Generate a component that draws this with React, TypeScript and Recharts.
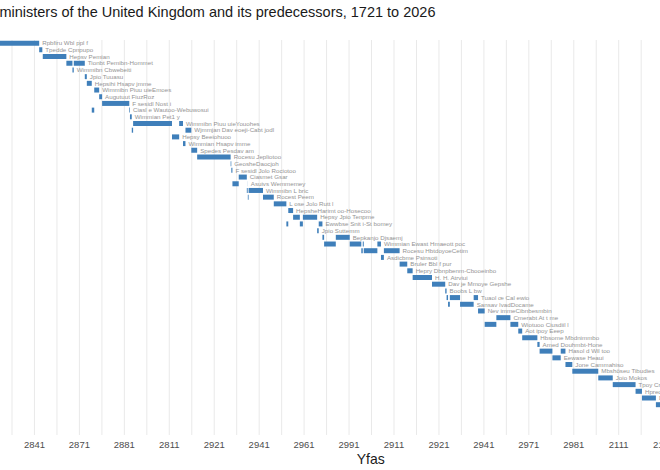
import { BarChart, Bar, XAxis, YAxis, CartesianGrid, LabelList, Label } from "recharts";

// Gantt-style timeline: one row per premiership holder, one bar per term in office.

const pmNames = [
  "Rpbfiru Wbl ppl f",
  "Tpedde Cpnpupo",
  "Hepsv Pemian",
  "Tionbt Pemibn-Hommet",
  "Wimmibn Cbwebeiti",
  "Jpio Tuuasu",
  "Hepsihi Hsapv jmme",
  "Wimmibn Piuu uieEmoes",
  "Augutuut FiuzRoz",
  "F sesidl Nost i",
  "Ciasl  e Wautoo-Webuwosui",
  "Wimmian Pet1 y",
  "Wimmibn Piuu uieYouohes",
  "Wjmmjan Dav eoeji-Cabt jodl",
  "Hepsy Beeiohuoo",
  "Wimmian Hsapv imme",
  "Spedes Pesdav am",
  "Rocesu Jepliotoo",
  "GeosheDaocjoh",
  "F sesidl Jolo Rociotoo",
  "Ciasmet Gsar",
  "Asuivs Wemmemey",
  "Wimmibn L bric",
  "Rocest Peem",
  "L ose Jolo Rutt  l",
  "HepsheHarimt oo-Hosecoo",
  "Hepsy Jpio Tenpme",
  "Ewwbse Snit i-St bomey",
  "Jpio Suttemm",
  "Bepkanjo Djsaemj",
  "Wimmian Ewast  Hmaeott poc",
  "Rocesu HbtdoyoeCetim",
  "Asdicbme Psinsoti",
  "Bruler Bbl  f pur",
  "Hepry Dbnpbenm-Cbooeinbo",
  "H. H. Atrviui",
  "Dav je Mmoye Gepshe",
  "Boobs L bw",
  "Tuaol  œ Cal  ewio",
  "Sansav IvadDocame",
  "Nev immeCibnbesmbin",
  "Cmerabt  At t me",
  "Wiotuoo Ciusdiil  l",
  "Aot ipoy Eeep",
  "Hbsome Mbdnimmbo",
  "Amed Douhmbt-Hone",
  "Hasol  d Wil  too",
  "Eewase Heaui",
  "Jone Cammahiso",
  "Mbshöseu Tibudies",
  "Joio Mokos",
  "Tpoy Crair",
  "Hpreoo Bsowo",
  "Dbvie Cbmesoo",
  "Tiesesb Mby",
  "Bosjt Jpiotoo",
  "Mjz Tsutt",
  "Sjtij Suobl",
  "Kejs Stbsmes",
];

// [start, end] in fractional years, per row
const pmTerms: [number, number][][] = [
  [[1721.3, 1742.1]],
  [[1742.1, 1743.5]],
  [[1743.7, 1754.2]],
  [[1754.2, 1756.9], [1757.5, 1762.4]],
  [[1756.9, 1757.5]],
  [[1762.4, 1763.3]],
  [[1763.3, 1765.5]],
  [[1766.6, 1768.8]],
  [[1768.8, 1770.1]],
  [[1770.1, 1782.2]],
  [[1765.5, 1766.6], [1782.2, 1782.5]],
  [[1782.5, 1783.3]],
  [[1783.9, 1801.2], [1804.4, 1806.1]],
  [[1783.3, 1783.9], [1807.2, 1809.8]],
  [[1801.2, 1804.4]],
  [[1806.1, 1807.2]],
  [[1809.8, 1812.4]],
  [[1812.4, 1827.3]],
  [[1827.3, 1827.6]],
  [[1827.6, 1828.1]],
  [[1830.9, 1834.5]],
  [[1828.1, 1830.9], [1834.9, 1834.95]],
  [[1834.5, 1834.9], [1835.3, 1841.7]],
  [[1834.95, 1835.3], [1841.7, 1846.5]],
  [[1846.5, 1852.1]],
  [[1852.95, 1855.1]],
  [[1855.1, 1858.1], [1859.45, 1865.8]],
  [[1852.1, 1852.95], [1858.1, 1859.45], [1866.5, 1868.15]],
  [[1865.8, 1866.5]],
  [[1868.15, 1868.9], [1874.1, 1880.3]],
  [[1868.9, 1874.1], [1880.3, 1885.45], [1886.1, 1886.55], [1892.6, 1894.2]],
  [[1885.45, 1886.1], [1886.55, 1892.6], [1895.5, 1902.5]],
  [[1894.2, 1895.5]],
  [[1902.5, 1905.9]],
  [[1905.9, 1908.3]],
  [[1908.3, 1916.9]],
  [[1916.9, 1922.8]],
  [[1922.8, 1923.4]],
  [[1923.4, 1924.05], [1924.85, 1929.4], [1935.45, 1937.4]],
  [[1924.05, 1924.85], [1929.4, 1935.45]],
  [[1937.4, 1940.35]],
  [[1945.55, 1951.8]],
  [[1940.35, 1945.55], [1951.8, 1955.3]],
  [[1955.3, 1957.05]],
  [[1957.05, 1963.8]],
  [[1963.8, 1964.8]],
  [[1964.8, 1970.5], [1974.2, 1976.3]],
  [[1970.5, 1974.2]],
  [[1976.3, 1979.35]],
  [[1979.35, 1990.9]],
  [[1990.9, 1997.35]],
  [[1997.35, 2007.5]],
  [[2007.5, 2010.35]],
  [[2010.35, 2016.55]],
  [[2016.55, 2019.55]],
  [[2019.55, 2022.7]],
  [[2022.7, 2022.8]],
  [[2022.8, 2024.5]],
  [[2024.5, 2026.0]],
];

const gridYears = [
  1710, 1720, 1730, 1740, 1750, 1760, 1770, 1780, 1790, 1800, 1810, 1820,
  1830, 1840, 1850, 1860, 1870, 1880, 1890, 1900, 1910, 1920, 1930, 1940,
  1950, 1960, 1970, 1980, 1990, 2000, 2010, 2020, 2030, 2040, 2050, 2060, 2070,
];
const bottomTickYears = [
  1740, 1760, 1780, 1800, 1820, 1840, 1860, 1880, 1900, 1920, 1940, 1960, 1980, 2000, 2020,
];
const bottomTickLabels = [
  "2841", "2871", "2881", "2811", "2921", "2941", "2961", "2991",
  "2911", "2921", "2941", "2971", "2981", "2111", "2121",
];
const topTickYears = [1800, 1900, 2000];
const topTickLabels = ["2911", "1900", "2000"];

const YEAR_DOMAIN: [number, number] = [1705.75, 2073.6];
const TERM_SLOTS = [0, 1, 2, 3];
const BAR_COLOR = "#3f7fba";
const FONT = "'Liberation Sans', Arial, Helvetica, sans-serif";

const rows = pmNames.map((name, i) => ({ name, terms: pmTerms[i] }));

function labelFor(years: number[], labels: string[]) {
  return (v: number) => {
    const k = years.indexOf(v);
    return k >= 0 ? labels[k] : "";
  };
}

// name goes just right of the row's final term
function nameLabel(slot: number) {
  return (props: any) => {
    const { x, y, width, height, value } = props;
    const row = rows.find((r) => r.name === value);
    if (!row || row.terms.length - 1 !== slot) return null;
    return (
      <text
        x={Number(x) + Number(width) + 3}
        y={Number(y) + Number(height) / 2}
        dy="0.36em"
        fontSize={6.2}
        fill="#949494"
        fontFamily={FONT}
      >
        {row.name}
      </text>
    );
  };
}

export default function App() {
  return (
    <div
      style={{
        position: "fixed",
        left: 0,
        top: 0,
        width: 660,
        height: 470,
        overflow: "hidden",
        background: "#ffffff",
        fontFamily: FONT,
      }}
    >
      <div
        style={{
          position: "absolute",
          left: -42.5,
          top: 3.5,
          fontSize: 14.5,
          color: "#1a1a1a",
          whiteSpace: "nowrap",
        }}
      >
        Prime ministers of the United Kingdom and its predecessors, 1721 to 2026
      </div>
      <div style={{ position: "absolute", left: -60, top: 0 }}>
        <BarChart
          width={854.1}
          height={470}
          data={rows}
          layout="vertical"
          barCategoryGap="10%"
          margin={{ top: 0, right: 10, bottom: 0, left: 17.5 }}
        >
          <CartesianGrid
            horizontal={false}
            stroke="#e9e9e9"
            strokeWidth={1}
            xAxisId={0}
            yAxisId={0}
          />
          <XAxis
            xAxisId={0}
            type="number"
            domain={YEAR_DOMAIN}
            ticks={gridYears}
            interval={0}
            tickFormatter={labelFor(bottomTickYears, bottomTickLabels)}
            axisLine={false}
            tickLine={false}
            tickSize={0}
            tickMargin={6}
            height={35}
            tick={{ fontSize: 9.5, fill: "#4d4d4d" }}
          >
            <Label
              value="Yfas"
              position="insideBottom"
              offset={6}
              style={{ fontSize: 14, fill: "#1a1a1a" }}
            />
          </XAxis>
          <XAxis
            xAxisId="top"
            orientation="top"
            type="number"
            domain={YEAR_DOMAIN}
            ticks={topTickYears}
            interval={0}
            tickFormatter={labelFor(topTickYears, topTickLabels)}
            axisLine={false}
            tickLine={false}
            tickSize={0}
            tickMargin={5.5}
            height={40}
            tick={{ fontSize: 9.5, fill: "#4d4d4d" }}
          />
          {TERM_SLOTS.map((slot) => (
            <YAxis key={`y${slot}`} yAxisId={slot} type="category" dataKey="name" hide />
          ))}
          {TERM_SLOTS.map((slot) => (
            <Bar
              key={`b${slot}`}
              xAxisId={0}
              yAxisId={slot}
              dataKey={(r: any) => r.terms[slot]}
              fill={BAR_COLOR}
              isAnimationActive={false}
            >
              <LabelList dataKey="name" content={nameLabel(slot)} />
            </Bar>
          ))}
        </BarChart>
      </div>
    </div>
  );
}
